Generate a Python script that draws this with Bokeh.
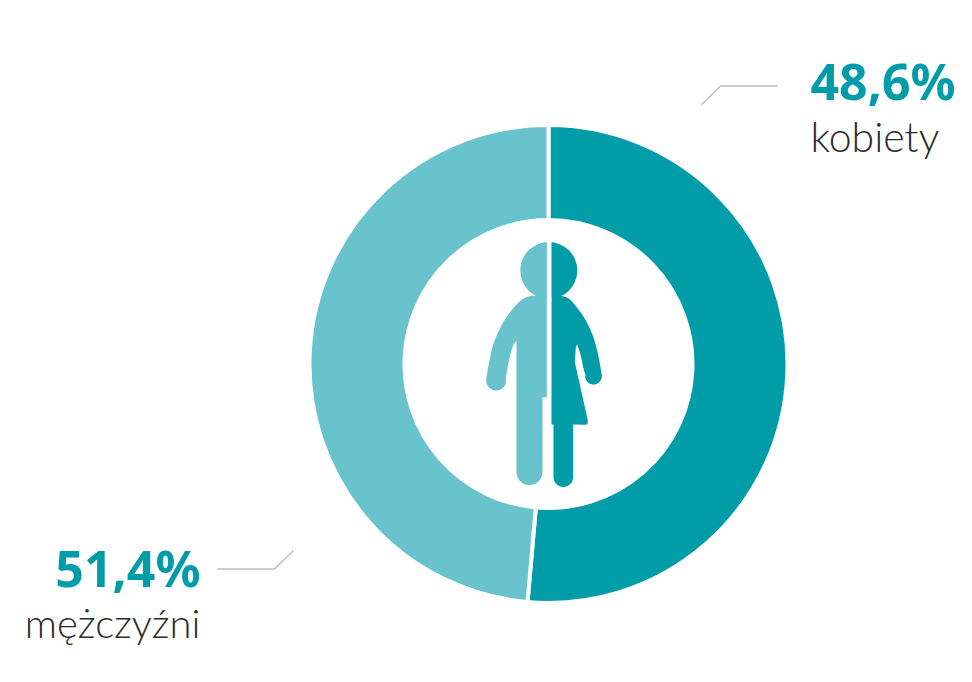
from math import pi, cos, sin, radians
from bokeh.plotting import figure
from bokeh.models import Range1d
from bokeh.core.properties import value
from bokeh.embed import file_html
from bokeh.resources import INLINE

# Data (the drawn slice sizes; labels as printed in the reference)
categories = ["dark slice", "light slice"]
slice_shares = [51.4, 48.6]
slice_colors = ["#009CA8", "#68C3CD"]
percent_labels = ["48,6%", "51,4%"]
name_labels = ["kobiety", "mężczyźni"]

W, H = 960, 670
def Y(v): return H - v   # screen y -> data y

p = figure(width=W, height=H, output_backend="svg", toolbar_location=None,
           x_range=Range1d(0, W), y_range=Range1d(0, H),
           min_border=0, outline_line_color=None, background_fill_color="white")
p.axis.visible = False
p.grid.visible = False

cx, cy, r_out, r_in = 548, Y(363.5), 239, 144
start = pi / 2
for share, col in zip(slice_shares, slice_colors):
    end = start - 2 * pi * share / 100
    p.annular_wedge(x=[cx], y=[cy], inner_radius=r_in, outer_radius=r_out,
                    start_angle=start, end_angle=end, direction="clock",
                    fill_color=col, line_color="white", line_width=4)
    start = end

# Icon outline helpers (crop coordinates from a 3x zoom with origin 470,230)
def ic(pts):
    return [470 + a / 3 for a, b in pts], [Y(230 + b / 3) for a, b in pts]

def arc(c_x, c_y, r, a0, a1, n=14):
    return [(c_x + r * cos(radians(a0 + (a1 - a0) * i / n)),
             c_y + r * sin(radians(a0 + (a1 - a0) * i / n))) for i in range(n + 1)]

def smooth(pts, it=3):
    for _ in range(it):
        out = [pts[0]]
        for (a, b), (c, d) in zip(pts, pts[1:]):
            out += [(0.75 * a + 0.25 * c, 0.75 * b + 0.25 * d), (0.25 * a + 0.75 * c, 0.25 * b + 0.75 * d)]
        out.append(pts[-1])
        pts = out
    return pts

light_body = (smooth([(229,195),(180,195),(155,205),(130,230),(100,270),(75,320),(60,370),(47,445)])
              + arc(77, 450, 30, 175, 15)
              + smooth([(106,442),(115,390),(125,350),(138,330)], 1)
              + [(138,725)] + arc(177, 725, 39, 180, 0)
              + [(216,500),(229,500)])
dark_body = (smooth([(243,195),(285,197),(305,212),(345,265),(370,320),(385,380),(394,435)])
             + arc(369, 437, 25, 0, 170)
             + smooth([(345,432),(340,420),(330,370),(317,333),(313,395)], 1)
             + [(352,570)] + arc(344, 575, 8, 0, 90, 5)
             + [(308,582)] + arc(278.5, 740, 29.5, 0, 180)
             + [(249,582),(243,582)])
xs, ys = ic(light_body)
p.patch(xs, ys, fill_color=slice_colors[1], line_color=None)
xs, ys = ic(dark_body)
p.patch(xs, ys, fill_color=slice_colors[0], line_color=None)
hx, hy, hr = 548.3, Y(270), 28.5
p.wedge(x=[hx], y=[hy], radius=hr, start_angle=pi/2, end_angle=-pi/2, direction="clock",
        fill_color=slice_colors[0], line_color=None)
p.wedge(x=[hx], y=[hy], radius=hr, start_angle=pi/2, end_angle=-pi/2, direction="anticlock",
        fill_color=slice_colors[1], line_color=None)
p.rect(x=[548.7], y=[hy], width=4.6, height=2*hr+4, fill_color="white", line_color=None)

# Leader lines
p.line([701, 720, 777], [Y(104), Y(85.5), Y(85.5)], line_color="#BDBDBD", line_width=1.5)
p.line([217, 274, 293], [Y(568.5), Y(568.5), Y(550)], line_color="#BDBDBD", line_width=1.5)

# Texts
FONT = value("Noto Sans")
p.text([810], [Y(80)], text=[percent_labels[0]], text_font=FONT, text_font_size="50px",
       text_font_style="bold", text_color=slice_colors[0], text_align="left", text_baseline="alphabetic")
p.text([200], [Y(567)], text=[percent_labels[1]], text_font=FONT, text_font_size="50px",
       text_font_style="bold", text_color=slice_colors[0], text_align="right", text_baseline="alphabetic")
LF = value("Lato Light")
p.text([810], [Y(136)], text=[name_labels[0]], text_font=LF, text_font_size="41px",
       text_color="#2B2B2B", text_align="left", text_baseline="alphabetic")
p.text([200], [Y(622)], text=[name_labels[1]], text_font=LF, text_font_size="40px",
       text_color="#2B2B2B", text_align="right", text_baseline="alphabetic")

open("out.html", "w").write(file_html(p, INLINE))
